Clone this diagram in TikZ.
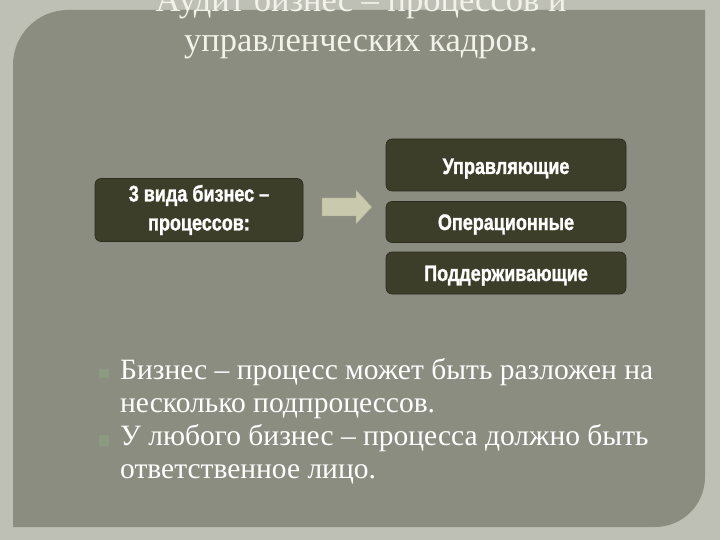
\documentclass[tikz,border=0pt]{standalone}
\usepackage{fontspec}
\setmainfont{Liberation Serif}
\newfontfamily\boxfont[FakeStretch=0.8,FakeBold=1.2]{Liberation Sans}
\definecolor{outerbg}{HTML}{BFC0B5}
\definecolor{panel}{HTML}{8B8D80}
\definecolor{boxfill}{HTML}{3C3E29}
\definecolor{arrowfill}{HTML}{C9CAAD}
\definecolor{bulletc}{HTML}{8A9C80}
\definecolor{titlec}{HTML}{F2F2EA}
\tikzset{
  procbox/.style={draw=boxfill!70!black, fill=boxfill, rounded corners=6pt, line width=0.6pt},
  boxtext/.style={text=white, font=\boxfont\bfseries\fontsize{22.5}{29}\selectfont, align=center},
  bodytext/.style={text=white, font=\fontsize{29.5}{33}\selectfont, anchor=base west, inner sep=0pt},
  titletext/.style={text=titlec, font=\fontsize{34.5}{40}\selectfont, anchor=base, inner sep=0pt},
}
\begin{document}
\begin{tikzpicture}[x=1pt,y=-1pt]
\useasboundingbox (0,0) rectangle (720,540);
\fill[outerbg] (0,0) rectangle (720,540);
% panel
\fill[panel] (13,527) -- (13,200) [rounded corners=55pt] -- (13,10) -- (300,10) [sharp corners]
  -- (705,10) -- (705,300) [rounded corners=50pt] -- (705,527) -- (400,527) [sharp corners]
  -- cycle;
% title
\node[titletext] (t1) at (361,12) {Аудит бизнес – процессов и};
\node[titletext] (t2) at (361,52) {управленческих кадров.};
% boxes
\node[procbox, minimum width=208pt, minimum height=63pt] (left) at (199,210) {};
\node[boxtext] (lt) at (left.center) {3 вида бизнес –\\процессов:};
\node[procbox, minimum width=240pt, minimum height=52pt] (b1) at (506,165) {};
\node[boxtext, anchor=base] (b1t) at (506,174) {Управляющие};
\node[procbox, minimum width=240pt, minimum height=41pt] (b2) at (506,222) {};
\node[boxtext, anchor=base] (b2t) at (506,230) {Операционные};
\node[procbox, minimum width=240pt, minimum height=42pt] (b3) at (506,273) {};
\node[boxtext, anchor=base] (b3t) at (506,281) {Поддерживающие};
% arrow
\fill[arrowfill, draw=arrowfill!80!black, line width=0.4pt]
  (322,198) -- (356,198) -- (356,190) -- (372,207) -- (356,224) -- (356,216) -- (322,216) -- cycle;
% bullets
\fill[bulletc] (99,369) rectangle (109,378);
\fill[bulletc] (99,435) rectangle (109,446);
% body text
\node[bodytext] (p1) at (120,379) {Бизнес – процесс может быть разложен на};
\node[bodytext] (p2) at (120,412) {несколько подпроцессов.};
\node[bodytext] (p3) at (120,445) {У любого бизнес – процесса должно быть};
\node[bodytext] (p4) at (120,478) {ответственное лицо.};
\end{tikzpicture}
\end{document}
